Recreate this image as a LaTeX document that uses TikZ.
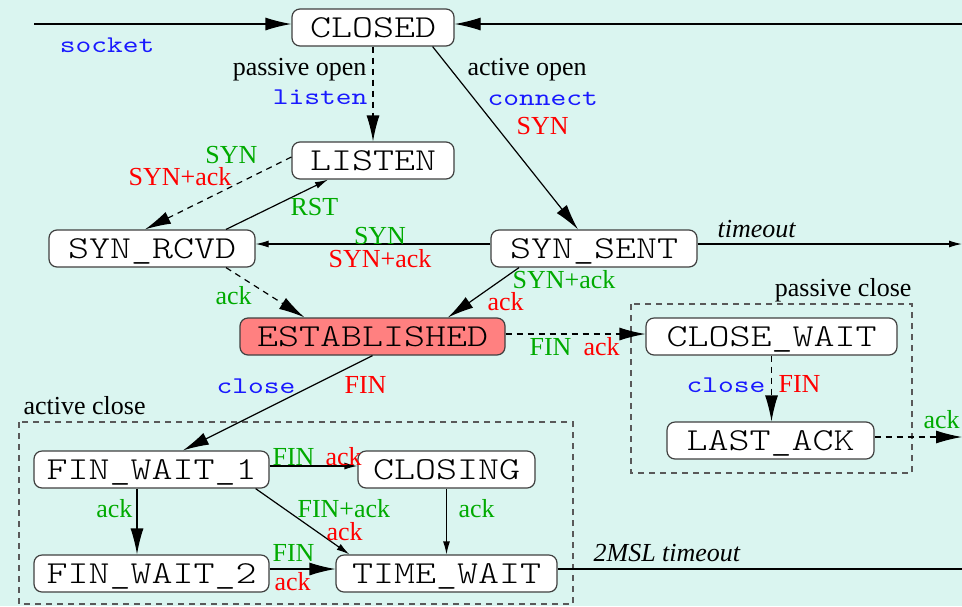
\documentclass[tikz,border=0pt]{standalone}
\usepackage{fontspec}
\setmainfont{Liberation Serif}
\newfontfamily\courfont{lmmonolt10-regular}[Extension=.otf, FakeStretch=1.25]
\newfontfamily\callfont{lmmono10-regular}[Extension=.otf, FakeStretch=1.25]
\usetikzlibrary{arrows.meta}

\definecolor{bgcol}{RGB}{218,245,240}
\definecolor{callcol}{RGB}{25,25,255}
\definecolor{rcvcol}{RGB}{0,170,0}
\definecolor{sndcol}{RGB}{255,0,0}
\definecolor{estcol}{RGB}{255,128,128}

\tikzset{
  state/.style={draw=black!75, fill=white, rounded corners=4pt, inner sep=0pt,
    minimum height=18.5pt, text height=9.5pt, text depth=0pt,
    font=\fontsize{16}{19}\selectfont\courfont},
  lbl/.style={inner sep=0pt, font=\fontsize{13}{15}\selectfont},
  call/.style={inner sep=0pt, text=callcol, font=\fontsize{12}{14}\selectfont\callfont},
  rcv/.style={lbl, text=rcvcol},
  snd/.style={lbl, text=sndcol},
  bigtip/.style={-{Latex[length=13pt,width=6.5pt]}},
  smalltip/.style={-{Latex[length=6.5pt,width=3.5pt]}},
  dsh/.style={dash pattern=on 3pt off 2.5pt},
  grp/.style={draw=black!65, dash pattern=on 3pt off 2.5pt},
}

\begin{document}
\begin{tikzpicture}[x=0.5pt, y=-0.5pt, line width=0.6pt]
  \fill[bgcol] (0,0) rectangle (962,606);
  \useasboundingbox (0,0) rectangle (962,606);

  % groups
  \draw[grp] (19,422) rectangle (573,604);
  \node[lbl, anchor=base west] (actClose) at (23,414) {active close};
  \draw[grp] (631,304) rectangle (912,473);
  \node[lbl, anchor=base east] (pasClose) at (912,296) {passive close};

  % states
  \node[state, minimum width=81pt] (closed) at (373,27.5) {CLOSED};
  \node[state, minimum width=81pt] (listen) at (373,160.5) {LISTEN};
  \node[state, minimum width=103pt] (synRcvd) at (152,248.5) {SYN\_RCVD};
  \node[state, minimum width=103pt] (synSent) at (594,248.5) {SYN\_SENT};
  \node[state, minimum width=132.5pt, fill=estcol] (estab) at (372.5,336.5) {ESTABLISHED};
  \node[state, minimum width=125.5pt] (closeWait) at (771.5,336.5) {CLOSE\_WAIT};
  \node[state, minimum width=103.5pt] (lastAck) at (770.5,440.5) {LAST\_ACK};
  \node[state, minimum width=117.5pt] (finWait1) at (151.5,469.5) {FIN\_WAIT\_1};
  \node[state, minimum width=88.5pt] (closing) at (446.5,469.5) {CLOSING};
  \node[state, minimum width=117.5pt] (finWait2) at (151.5,573.5) {FIN\_WAIT\_2};
  \node[state, minimum width=110.5pt] (timeWait) at (446.5,573.5) {TIME\_WAIT};

  % free ends
  \coordinate (inL) at (34,24);
  \coordinate (inR) at (962,24);
  \coordinate (outT) at (962,244);
  \coordinate (outA) at (962,437);
  \coordinate (outW) at (962,569);

  % transitions
  \draw[bigtip] (inL) -- (inL -| closed.west);
  \draw[bigtip] (inR) -- (inR -| closed.east);
  \draw[bigtip, dsh] (closed) -- (listen);
  \draw[bigtip] ([xshift=-11pt]closed.south east) -- ([xshift=-8pt]synSent.north);
  \draw[bigtip, dsh] ([yshift=1.75pt]listen.west) -- ([xshift=-3.5pt]synRcvd.north);
  \draw[smalltip] ([xshift=37pt]synRcvd.north) -- ([xshift=-22.5pt]listen.south);
  \draw[smalltip] ([yshift=2.25pt]synSent.west) -- ([yshift=2.25pt]synRcvd.east);
  \draw[bigtip, dsh] ([xshift=37pt]synRcvd.south) -- ([xshift=-34pt]estab.north);
  \draw[bigtip] ([xshift=-37.5pt]synSent.south) -- ([xshift=37.75pt]estab.north);
  \draw[smalltip] ([yshift=2.25pt]synSent.east) -- (outT);
  \draw[bigtip, dsh] ([yshift=1.25pt]estab.east) -- ([yshift=1.25pt]closeWait.west);
  \draw[bigtip, dsh] (closeWait.south) -- (closeWait.south |- lastAck.north);
  \draw[bigtip, dsh] ([yshift=1.75pt]lastAck.east) -- (outA);
  \draw[bigtip] (estab.south) -- ([xshift=15.75pt]finWait1.north);
  \draw[smalltip] ([yshift=1.75pt]finWait1.east) -- ([yshift=1.75pt]closing.west);
  \draw[bigtip] ([xshift=-7.25pt]finWait1.south) -- ([xshift=-7.25pt]finWait2.north);
  \draw[smalltip] ([xshift=-7pt]finWait1.south east) -- ([xshift=7pt]timeWait.north west);
  \draw[smalltip] (closing) -- (timeWait);
  \draw[bigtip] ([yshift=2.25pt]finWait2.east) -- ([yshift=2.25pt]timeWait.west);
  \draw ([yshift=2.25pt]timeWait.east) -- (outW);

  % labels
  \node[call, anchor=base] (lSocket) at (107,52) {socket};
  \node[lbl, anchor=base east] (lPasOpen) at (367,75) {passive open};
  \node[call, anchor=base east] (lListen) at (368,104) {listen};
  \node[lbl, anchor=base west] (lActOpen) at (467,75) {active open};
  \node[call, anchor=base west] (lConnect) at (487,105) {connect};
  \node[snd, anchor=base west] (lSynA) at (516,134) {SYN};
  \node[rcv, anchor=base east] (lSynB) at (258,163) {SYN};
  \node[snd, anchor=base east] (lSynAckA) at (232,185) {SYN+ack};
  \node[rcv, anchor=base west] (lRst) at (290,215) {RST};
  \node[rcv, anchor=base] (lSynC) at (380,244) {SYN};
  \node[snd, anchor=base] (lSynAckB) at (380,267) {SYN+ack};
  \node[rcv, anchor=base west] (lAckA) at (215,304) {ack};
  \node[rcv, anchor=base west] (lSynAckC) at (512,288) {SYN+ack};
  \node[snd, anchor=base west] (lAckB) at (487,310) {ack};
  \node[lbl, anchor=base west, font=\fontsize{13}{15}\selectfont\itshape] (lTimeout) at (717,237) {timeout};
  \node[rcv, anchor=base west] (lFinA) at (529,355) {FIN};
  \node[snd, anchor=base west] (lAckC) at (583,355) {ack};
  \node[call, anchor=base east] (lCloseA) at (766,392) {close};
  \node[snd, anchor=base west] (lFinB) at (778,392) {FIN};
  \node[rcv, anchor=base west] (lAckD) at (923,428) {ack};
  \node[call, anchor=base west] (lCloseB) at (216,393) {close};
  \node[snd, anchor=base west] (lFinC) at (344,393) {FIN};
  \node[rcv, anchor=base west] (lFinD) at (272,465) {FIN};
  \node[snd, anchor=base west] (lAckE) at (325,465) {ack};
  \node[rcv, anchor=base east] (lAckF) at (133,517) {ack};
  \node[rcv, anchor=base west] (lFinAck) at (297,517) {FIN+ack};
  \node[snd, anchor=base west] (lAckG) at (326,540) {ack};
  \node[rcv, anchor=base west] (lAckH) at (458,517) {ack};
  \node[rcv, anchor=base west] (lFinE) at (272,561) {FIN};
  \node[snd, anchor=base west] (lAckI) at (274,590) {ack};
  \node[lbl, anchor=base west, font=\fontsize{13}{15}\selectfont\itshape] (l2msl) at (593,561) {2MSL timeout};
\end{tikzpicture}
\end{document}
